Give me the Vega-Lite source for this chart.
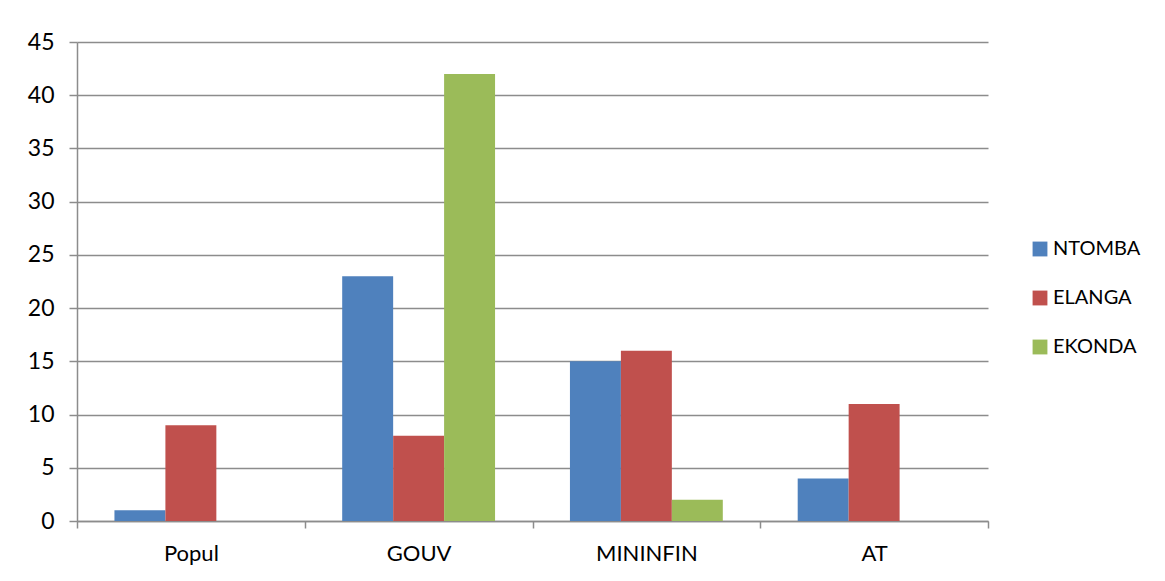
{
  "$schema": "https://vega.github.io/schema/vega-lite/v6.json",
  "autosize": "none",
  "width": 911,
  "height": 479,
  "padding": {"left": 77, "top": 42, "right": 177, "bottom": 60},
  "background": "white",
  "data": {
    "values": [
      {"cat": "Popul", "group": "NTOMBA", "value": 1},
      {"cat": "Popul", "group": "ELANGA", "value": 9},
      {"cat": "Popul", "group": "EKONDA", "value": 0},
      {"cat": "GOUV", "group": "NTOMBA", "value": 23},
      {"cat": "GOUV", "group": "ELANGA", "value": 8},
      {"cat": "GOUV", "group": "EKONDA", "value": 42},
      {"cat": "MININFIN", "group": "NTOMBA", "value": 15},
      {"cat": "MININFIN", "group": "ELANGA", "value": 16},
      {"cat": "MININFIN", "group": "EKONDA", "value": 2},
      {"cat": "AT", "group": "NTOMBA", "value": 4},
      {"cat": "AT", "group": "ELANGA", "value": 11},
      {"cat": "AT", "group": "EKONDA", "value": 0}
    ]
  },
  "mark": {"type": "bar"},
  "encoding": {
    "x": {
      "field": "cat",
      "type": "nominal",
      "sort": ["Popul", "GOUV", "MININFIN", "AT"],
      "scale": {"paddingInner": 0, "paddingOuter": 0},
      "axis": {
        "title": null,
        "labelAngle": 0,
        "tickBand": "extent",
        "tickSize": 7,
        "labelPadding": 15,
        "domainColor": "#8c8c8c",
        "tickColor": "#8c8c8c",
        "domainWidth": 1.5,
        "tickWidth": 1.5
      }
    },
    "xOffset": {
      "field": "group",
      "type": "nominal",
      "sort": ["NTOMBA", "ELANGA", "EKONDA"],
      "scale": {"paddingInner": 0, "paddingOuter": 0.735}
    },
    "y": {
      "field": "value",
      "type": "quantitative",
      "scale": {"domain": [0, 45], "nice": false},
      "axis": {
        "title": null,
        "values": [0, 5, 10, 15, 20, 25, 30, 35, 40, 45],
        "grid": true,
        "gridColor": "#8c8c8c",
        "gridWidth": 1.5,
        "tickSize": 8,
        "tickColor": "#8c8c8c",
        "tickWidth": 1.5,
        "domainColor": "#8c8c8c",
        "domainWidth": 1.5,
        "labelPadding": 15,
        "labelFontSize": 23
      }
    },
    "color": {
      "field": "group",
      "type": "nominal",
      "sort": ["NTOMBA", "ELANGA", "EKONDA"],
      "scale": {
        "domain": ["NTOMBA", "ELANGA", "EKONDA"],
        "range": ["#4F81BD", "#C0504D", "#9BBB59"]
      },
      "legend": {
        "title": null,
        "orient": "none",
        "legendX": 953,
        "legendY": 197,
        "symbolType": "square",
        "symbolSize": 220,
        "symbolStrokeWidth": 0,
        "rowPadding": 29,
        "labelFontSize": 20,
        "labelFont": "Lato",
        "labelColor": "#000000",
        "labelOffset": 3
      }
    }
  },
  "config": {
    "view": {"stroke": null},
    "axis": {
      "labelFont": "Lato",
      "labelFontSize": 22,
      "labelColor": "#000000"
    }
  }
}
